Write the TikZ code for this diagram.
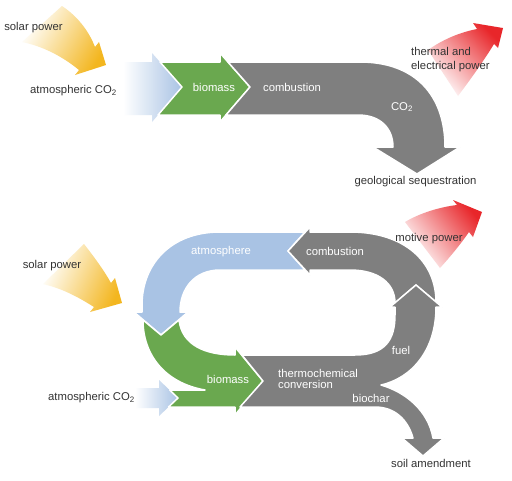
\documentclass[tikz,border=0pt]{standalone}
\usepackage{fontspec}
\newfontfamily\lblfam{Liberation Sans}
\newcommand\lblfont{\lblfam\fontsize{11.3}{11}\selectfont}
\definecolor{blueC}{HTML}{A9C3E4}
\definecolor{greenC}{HTML}{6AA84F}
\definecolor{grayC}{HTML}{7F7F7F}
\definecolor{yellowC}{HTML}{F3B61F}
\definecolor{redC}{HTML}{E8262A}
\definecolor{textC}{HTML}{333333}
\tikzset{
  band/.style={draw=white, line width=1.5pt, line join=round},
  lbl/.style={font=\lblfont, text=textC, inner sep=0pt},
  wlbl/.style={font=\lblfont, text=white, inner sep=0pt},
}
\begin{document}
\begin{tikzpicture}[x=1pt,y=-1pt]
\useasboundingbox[fill=white] (0,0) rectangle (512,480);

% ---------- top section ----------
% solar power (yellow)
\shade[left color=white, middle color=yellowC!45, right color=yellowC, shading angle=60]
  (62,6) .. controls (80,18) and (90,34) .. (95,47) -- (99,42) -- (106,65) -- (75,75) -- (79,70)
  .. controls (62,56) and (42,46) .. (22,42) -- cycle;
% thermal and electrical power (red)
\shade[left color=white, middle color=redC!45, right color=redC, shading angle=134]
  (428,50) .. controls (445,38) and (462,32) .. (477,29) -- (473,23) -- (503,28) -- (498,48) -- (494,44)
  .. controls (483,62) and (470,80) .. (458,96) -- cycle;
% atmospheric CO2 (blue)
\shade[left color=white, middle color=blueC, right color=blueC]
  (123,62) -- (152,62) -- (152,53) -- (182,87) -- (152,122) -- (152,115) -- (123,115) -- cycle;
% biomass (green)
\fill[greenC, band]
  (160,62) -- (220,62) -- (220,53) -- (250,87) -- (220,122) -- (220,115) -- (158,115) -- (182,87) -- cycle;
% combustion (gray)
\fill[grayC, band]
  (228,62) -- (360,62) .. controls (415,62) and (445,95) .. (445,147) -- (460,147) -- (417,174)
  -- (373,147) -- (393,147) .. controls (393,128) and (380,115) .. (358,115) -- (226,115) -- (250,87) -- cycle;

\node[lbl] (sol1) at (33.5,28) {solar power};
\node[lbl, anchor=west] (co2a) at (30,91) {atmospheric CO\textsubscript{2}};
\node[wlbl] (bio1) at (214,87) {biomass};
\node[wlbl] (comb1) at (292,87) {combustion};
\node[wlbl] (co2b) at (402,107) {CO\textsubscript{2}};
\node[lbl] (geo) at (415.5,182) {geological sequestration};
\node[lbl, anchor=west, align=left, font=\lblfam\fontsize{11.3}{14}\selectfont] (therm) at (411,60) {thermal and\\electrical power};

% ---------- bottom section ----------
% solar power (yellow)
\shade[left color=white, middle color=yellowC!45, right color=yellowC, shading angle=66]
  (84,244) .. controls (95,258) and (105,272) .. (111,283) -- (115,278) -- (122,303) -- (90,312) -- (94,307)
  .. controls (75,295) and (60,288) .. (43,284) -- cycle;
% motive power (red)
\shade[left color=white, middle color=redC!45, right color=redC, shading angle=128]
  (405,222) .. controls (420,213) and (440,207) .. (457,205) -- (453,200) -- (482,212) -- (473,237) -- (469,232)
  .. controls (460,245) and (450,257) .. (440,268) -- cycle;
% atmospheric CO2 small (blue)
\shade[left color=white, middle color=blueC, right color=blueC]
  (135,388) -- (159,388) -- (159,380) -- (178,398) -- (159,416) -- (159,408) -- (135,408) -- cycle;
% atmosphere (blue C)
\fill[blueC, band]
  (305,232) -- (220,232) .. controls (170,232) and (142,265) .. (142,305) -- (142,312) -- (134,312)
  -- (161,335) -- (188,312) -- (180,312) .. controls (180,288) and (195,270) .. (220,270)
  -- (305,270) -- (288,251) -- cycle;
% biomass (green)
\fill[greenC, band]
  (143,320) -- (161,335) -- (179,320) .. controls (182,345) and (205,355) .. (235,355)
  -- (235,347) -- (263,381) -- (235,415) -- (235,407) -- (168.5,407) -- (178,398) -- (169.6,390)
  -- (205,390) .. controls (165,383) and (143,355) .. (143,320) -- cycle;
% combustion (gray)
\fill[grayC, band]
  (288,251) -- (310,227) -- (310,232) -- (350,232) .. controls (405,232) and (436,262) .. (436,302)
  -- (416,285) -- (395,303) .. controls (395,283) and (378,270) .. (350,270) -- (310,270) -- (310,275) -- cycle;
% thermochemical conversion / fuel / biochar (gray)
\fill[grayC, band]
  (242,355) -- (355,355) .. controls (385,355) and (395,340) .. (395,315) -- (395,307) -- (390,307)
  -- (416,285) -- (442,307) -- (436,307) .. controls (436,350) and (412,378) .. (381,385)
  .. controls (405,392) and (428,410) .. (433,438) -- (444,438) -- (423,456) -- (402,438) -- (413,438)
  .. controls (408,420) and (395,407) .. (375,407) -- (240,407) -- (263,381) -- cycle;

\node[lbl] (sol2) at (52,266) {solar power};
\node[lbl, anchor=west] (co2c) at (48,398) {atmospheric CO\textsubscript{2}};
\node[wlbl] (atm) at (221,252) {atmosphere};
\node[wlbl] (comb2) at (335,251) {combustion};
\node[lbl] (motive) at (429,239) {motive power};
\node[wlbl] (fuel) at (401,350) {fuel};
\node[wlbl, anchor=west, align=left] (thermo) at (278,378.5) {thermochemical\\conversion};
\node[wlbl] (biochar) at (371,398) {biochar};
\node[wlbl] (bio2) at (228,379) {biomass};
\node[lbl] (soil) at (431,463) {soil amendment};
\end{tikzpicture}
\end{document}
